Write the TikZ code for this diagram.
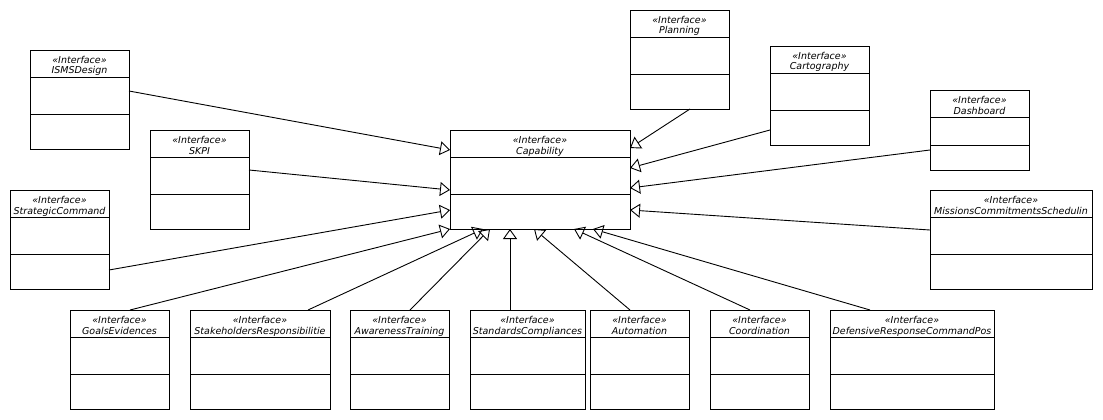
\documentclass[tikz,border=0pt]{standalone}
\usepackage{fontspec}
\setmainfont{DejaVu Sans}
\usetikzlibrary{arrows.meta,calc}
\tikzset{
  ifbox/.style={draw, line width=0.9pt, inner sep=0pt, outer sep=0pt, fill=white},
  sepline/.style={line width=0.9pt},
  stereo/.style={inner sep=0pt, anchor=base, font=\fontsize{9.5}{11}\selectfont\itshape},
  gen/.style={draw, line width=0.9pt, -{Triangle[open, length=10pt, width=14pt]}},
}
% #1 name, #2 x0, #3 y0, #4 width, #5 height, #6 second separator offset, #7 label, #8 right clip inset
\newcommand{\iface}[8]{%
  \node[ifbox, minimum width=#4pt, minimum height=#5pt, anchor=north west] (#1) at (#2,#3) {};
  \draw[sepline] ([yshift=-27pt]#1.north west) -- ([yshift=-27pt]#1.north east);
  \draw[sepline] ([yshift=-#6pt]#1.north west) -- ([yshift=-#6pt]#1.north east);
  \begin{scope}
    \clip ([xshift=2pt,yshift=-1pt]#1.north west) rectangle ([xshift=-#8pt,yshift=-26pt]#1.north east);
    \node[stereo] (#1-st) at ([yshift=-13.5pt]#1.north) {«Interface»};
    \node[stereo] (#1-nm) at ([yshift=-24pt]#1.north) {#7};
  \end{scope}
}
\begin{document}
\begin{tikzpicture}[x=1pt, y=-1pt]
\useasboundingbox (0,0) rectangle (1103,420);

\iface{isms}{30}{50}{99}{99}{64}{ISMSDesign}{2}
\iface{skpi}{150}{130}{99}{99}{64}{SKPI}{2}
\iface{strat}{10}{190}{99}{99}{64}{StrategicCommand}{3}
\iface{cap}{450}{130}{180}{99}{64}{Capability}{2}
\iface{plan}{630}{10}{99}{99}{64}{Planning}{2}
\iface{carto}{770}{46}{99}{99}{64}{Cartography}{2}
\iface{dash}{930}{90}{99}{80}{55}{Dashboard}{2}
\iface{miss}{930}{190}{162}{99}{64}{MissionsCommitmentsSchedulin}{2}
\iface{goals}{70}{310}{99}{99}{64}{GoalsEvidences}{12}
\iface{stake}{190}{310}{140}{99}{64}{StakeholdersResponsibilitie}{4}
\iface{aware}{350}{310}{99}{99}{64}{AwarenessTraining}{4}
\iface{stand}{470}{310}{115}{99}{64}{StandardsCompliances}{2.5}
\iface{auto}{590}{310}{99}{99}{64}{Automation}{2}
\iface{coord}{710}{310}{99}{99}{64}{Coordination}{19}
\iface{def}{830}{310}{164}{99}{64}{DefensiveResponseCommandPos}{2.5}

% left side
\draw[gen] ([yshift=-41pt]isms.north east) -- ([yshift=-20pt]cap.north west);
\draw[gen] ([yshift=-40pt]skpi.north east) -- ([yshift=-60pt]cap.north west);
\draw[gen] ([yshift=-80pt]strat.north east) -- ([yshift=-80pt]cap.north west);
% bottom row
\draw[gen] ([xshift=60pt]goals.north west) -- (cap.south west);
\draw[gen] ([xshift=118pt]stake.north west) -- ([xshift=33pt]cap.south west);
\draw[gen] ([xshift=60pt]aware.north west) -- ([xshift=40pt]cap.south west);
\draw[gen] ([xshift=40pt]stand.north west) -- ([xshift=60pt]cap.south west);
\draw[gen] ([xshift=40pt]auto.north west) -- ([xshift=84pt]cap.south west);
\draw[gen] ([xshift=40pt]coord.north west) -- ([xshift=124pt]cap.south west);
\draw[gen] ([xshift=40pt]def.north west) -- ([xshift=143pt]cap.south west);
% right side
\draw[gen] ([xshift=60pt]plan.south west) -- ([yshift=-18pt]cap.north east);
\draw[gen] ([yshift=-84pt]carto.north west) -- ([yshift=-38pt]cap.north east);
\draw[gen] ([yshift=-60pt]dash.north west) -- ([yshift=-58pt]cap.north east);
\draw[gen] ([yshift=-40pt]miss.north west) -- ([yshift=-80pt]cap.north east);
\end{tikzpicture}
\end{document}
